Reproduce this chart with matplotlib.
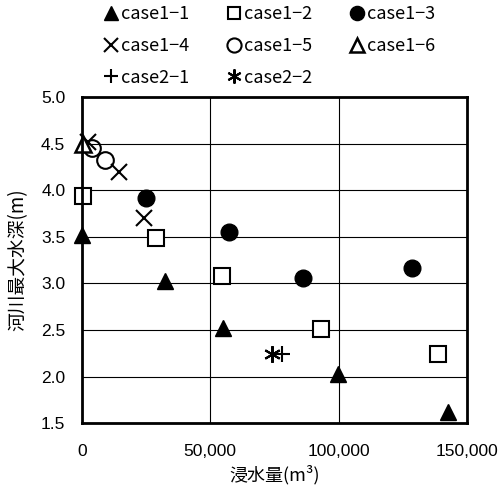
import numpy as np
import matplotlib.pyplot as plt
from matplotlib.ticker import FuncFormatter

plt.rcParams['font.family'] = ['Liberation Sans', 'Noto Sans CJK JP', 'DejaVu Sans']

# data (x: 浸水量 m3, y: 河川最大水深 m)
labels = ["case1−1", "case1−2", "case1−3", "case1−4",
          "case1−5", "case1−6", "case2−1", "case2−2"]

c11_x = [0, 32500, 55000, 99800, 142500]
c11_y = [3.52, 3.02, 2.52, 2.03, 1.62]
c12_x = [500, 29000, 54500, 93000, 138700]
c12_y = [3.94, 3.49, 3.08, 2.51, 2.24]
c13_x = [25000, 57500, 86000, 128600]
c13_y = [3.92, 3.55, 3.06, 3.16]
c14_x = [2500, 14400, 24200]
c14_y = [4.52, 4.19, 3.70]
c15_x = [3800, 8800]
c15_y = [4.45, 4.32]
c16_x = [300]
c16_y = [4.50]
c21_x = [77800]
c21_y = [2.24]
c22_x = [74000]
c22_y = [2.24]

fig = plt.figure(figsize=(5.03, 4.92), dpi=100)
ax = fig.add_axes([0.163, 0.140, 0.765, 0.663])

h = []
h.append(ax.plot(c11_x, c11_y, ls='none', marker='^', ms=12, color='black', clip_on=False)[0])
h.append(ax.plot(c12_x, c12_y, ls='none', marker='s', ms=11, mfc='white', mec='black', mew=1.5, clip_on=False)[0])
h.append(ax.plot(c13_x, c13_y, ls='none', marker='o', ms=12, color='black', clip_on=False)[0])
h.append(ax.plot(c14_x, c14_y, ls='none', marker='x', ms=12, mec='black', mew=1.5, clip_on=False)[0])
h.append(ax.plot(c15_x, c15_y, ls='none', marker='o', ms=12, mfc='none', mec='black', mew=1.5, clip_on=False)[0])
h.append(ax.plot(c16_x, c16_y, ls='none', marker='^', ms=12, mfc='white', mec='black', mew=1.8, clip_on=False)[0])
h.append(ax.plot(c21_x, c21_y, ls='none', marker='+', ms=12, mec='black', mew=1.5, clip_on=False)[0])
h.append(ax.plot(c22_x, c22_y, ls='none', marker=(6, 2, 0), ms=12, mec='black', mew=1.5, clip_on=False)[0])

ax.set_xlim(0, 150000)
ax.set_ylim(1.5, 5.0)
ax.set_xticks([0, 50000, 100000, 150000])
ax.set_yticks(np.arange(1.5, 5.01, 0.5))
ax.xaxis.set_major_formatter(FuncFormatter(lambda v, p: f"{int(v):,}"))
ax.yaxis.set_major_formatter(FuncFormatter(lambda v, p: f"{v:.1f}"))
ax.tick_params(length=0, labelsize=12.5)
ax.tick_params(axis='x', pad=15)
ax.tick_params(axis='y', pad=12)
ax.grid(True, color='black', lw=0.8)
ax.set_axisbelow(True)
for s in ax.spines.values():
    s.set_linewidth(2)

ax.set_xlabel("浸水量(m³)", fontsize=13, family=['Noto Sans CJK JP'], labelpad=4)
ax.set_ylabel("河川最大水深(m)", fontsize=13.5, family=['Noto Sans CJK JP'], labelpad=9)

# matplotlib fills legend columns first, reorder so rows read 1-2-3 / 4-5-6 / 7-8
order = [0, 3, 6, 1, 4, 7, 2, 5]
leg = fig.legend([h[i] for i in order], [labels[i] for i in order],
                 ncol=3, loc='upper left', bbox_to_anchor=(0.17, 1.022),
                 frameon=False, handletextpad=0.05, handlelength=1.0,
                 columnspacing=2.0, labelspacing=0.75, markerscale=0.85,
                 prop={'family': ['Noto Sans CJK JP'], 'size': 13})

fig.savefig("out.png", dpi=100)
